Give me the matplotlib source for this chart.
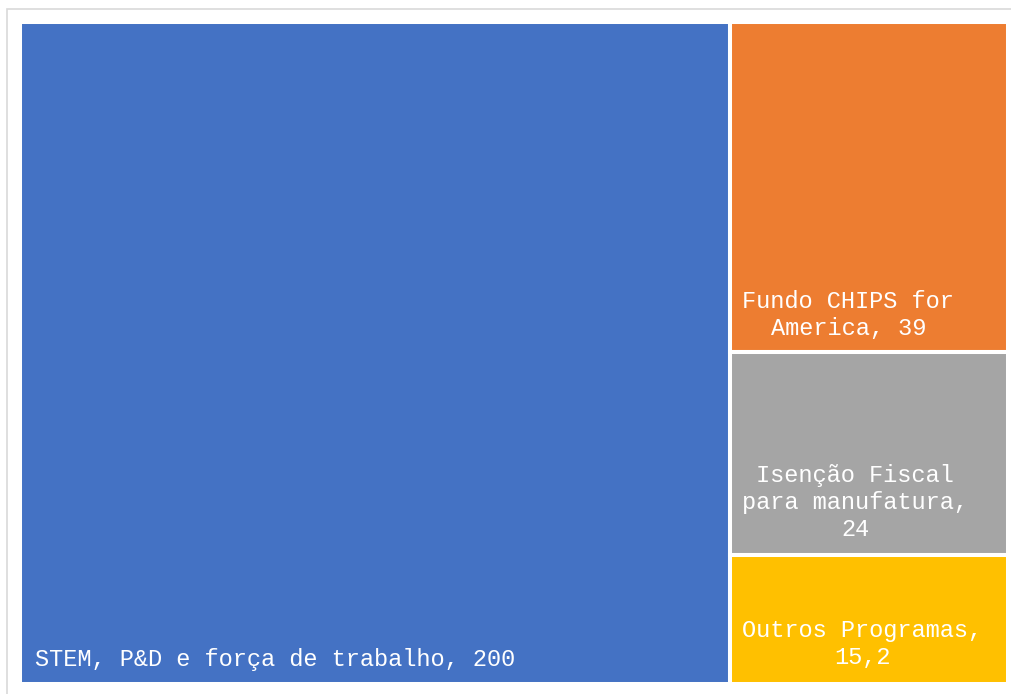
import matplotlib
matplotlib.use("Agg")
import matplotlib.pyplot as plt
from matplotlib.patches import Rectangle

labels = ["STEM, P&D e força de trabalho, 200",
          "Fundo CHIPS for\nAmerica, 39",
          "Isenção Fiscal\npara manufatura,\n24",
          "Outros Programas,\n15,2"]
values = [200, 39, 24, 15.2]
colors = ["#4472C4", "#ED7D31", "#A5A5A5", "#FFC000"]

W, H = 1011, 694
fig = plt.figure(figsize=(W / 100, H / 100), dpi=100)
fig.patch.set_facecolor("white")

# outer frame (light gray, top/left visible)
fig.add_artist(Rectangle((6.5 / W, -0.1), 1.2, (H - 8.5) / H + 0.1,
                         transform=fig.transFigure, fill=False,
                         edgecolor="#D9D9D9", linewidth=1.2))

# plot area in pixels
x0, x1 = 20, 1008
y0, y1 = 22, 684
ax = fig.add_axes([x0 / W, (H - y1) / H, (x1 - x0) / W, (y1 - y0) / H])
ax.set_xlim(0, 1)
ax.set_ylim(0, 1)
ax.axis("off")

total = sum(values)
first_w = values[0] / total
rects = [(0, 0, first_w, 1)]
rest = sum(values[1:])
ytop = 1.0
for v in values[1:]:
    h = v / rest
    rects.append((first_w, ytop - h, 1 - first_w, h))
    ytop -= h

pads_x = [15, 12, 12, 12]   # pixels
pads_y = [18, 17, 19, 20]

axw = x1 - x0
axh = y1 - y0
for (rx, ry, rw, rh), c, lab, px, py in zip(rects, colors, labels, pads_x, pads_y):
    ax.add_patch(Rectangle((rx, ry), rw, rh, facecolor=c, edgecolor="white",
                           linewidth=2.9))
    ax.text(rx + px / axw, ry + py / axh, lab, color="white",
            fontsize=17, family=["Liberation Mono", "DejaVu Sans Mono"],
            ha="left", va="baseline", multialignment="center",
            linespacing=1.22)

fig.savefig("out.png", dpi=100, facecolor="white")
